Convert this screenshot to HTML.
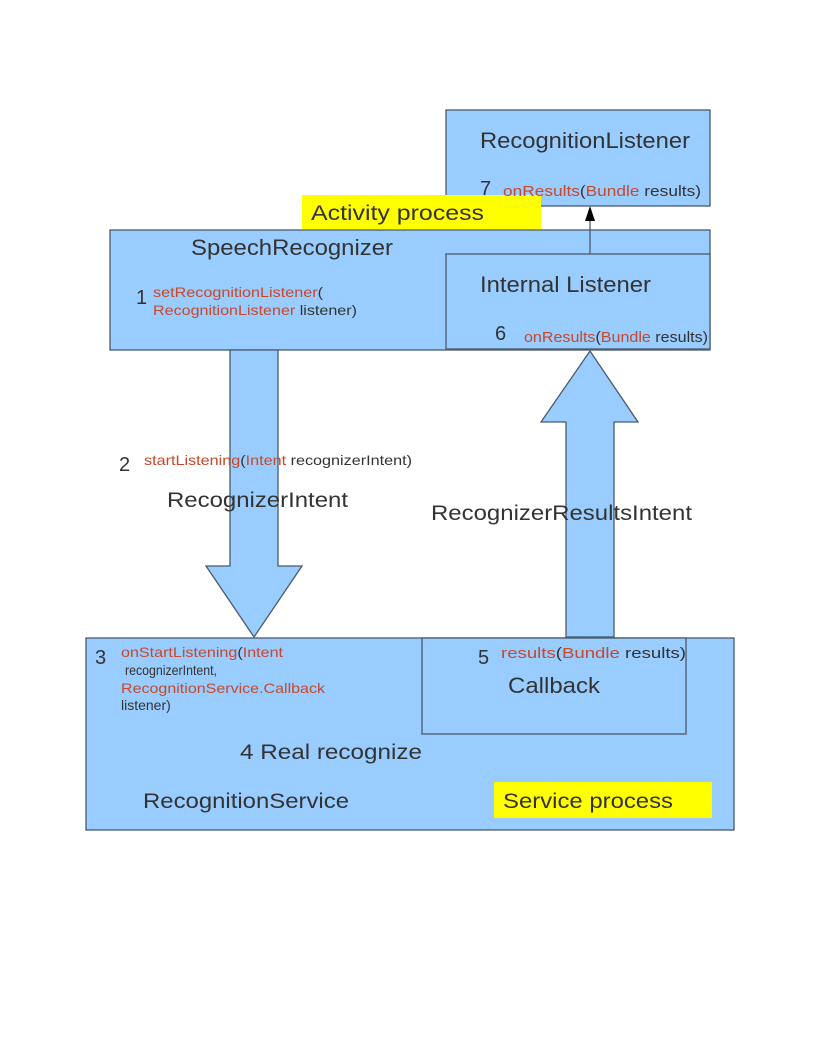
<!DOCTYPE html>
<html><head><meta charset="utf-8"><style>
html,body{margin:0;padding:0;background:#fff;}
svg{display:block;}
text{font-family:"Liberation Sans",sans-serif;fill:#333;}
.r{fill:#c8482a;}
</style></head><body>
<svg width="816" height="1056" viewBox="0 0 816 1056" xmlns="http://www.w3.org/2000/svg">
<g fill="#99ccff" stroke="#4a5a6a" stroke-width="1.3">
<rect x="446" y="110" width="264" height="96"/>
<rect x="110" y="230" width="600" height="120"/>
<rect x="446" y="254" width="264" height="95"/>
<rect x="86" y="638" width="648" height="192"/>
<rect x="422" y="638" width="264" height="96"/>
<polygon points="230,350 278,350 278,566 302,566 254,637 206,566 230,566"/>
<polygon points="566,637 614,637 614,422 638,422 590,351 541,422 566,422"/>
</g>
<line x1="590" y1="254" x2="590" y2="220" stroke="#4a5a6a" stroke-width="1.3"/>
<polygon points="590,206 585,221 595,221" fill="#000"/>
<rect x="302" y="195" width="239" height="34" fill="#ffff00"/>
<rect x="494" y="782" width="218" height="36" fill="#ffff00"/>

<text x="480" y="148" font-size="22" textLength="210" lengthAdjust="spacingAndGlyphs">RecognitionListener</text>
<text x="480" y="195" font-size="20">7</text>
<text x="503" y="196" font-size="15" textLength="198" lengthAdjust="spacingAndGlyphs"><tspan class="r">onResults</tspan>(<tspan class="r">Bundle</tspan> results)</text>
<text x="311" y="220" font-size="21" textLength="173" lengthAdjust="spacingAndGlyphs">Activity  process</text>

<text x="191" y="255" font-size="22" textLength="202" lengthAdjust="spacingAndGlyphs">SpeechRecognizer</text>
<text x="136" y="304" font-size="20">1</text>
<text x="153" y="297" font-size="14" class="r" textLength="170" lengthAdjust="spacingAndGlyphs">setRecognitionListener<tspan fill="#333">(</tspan></text>
<text x="153" y="315" font-size="14" textLength="204" lengthAdjust="spacingAndGlyphs"><tspan class="r">RecognitionListener</tspan> listener)</text>

<text x="480" y="292" font-size="22" textLength="171" lengthAdjust="spacingAndGlyphs">Internal Listener</text>
<text x="495" y="340" font-size="20">6</text>
<text x="524" y="342" font-size="15" textLength="184" lengthAdjust="spacingAndGlyphs"><tspan class="r">onResults</tspan>(<tspan class="r">Bundle</tspan> results)</text>

<text x="119" y="471" font-size="20">2</text>
<text x="144" y="465" font-size="14" textLength="268" lengthAdjust="spacingAndGlyphs"><tspan class="r">startListening</tspan>(<tspan class="r">Intent</tspan> recognizerIntent)</text>
<text x="167" y="507" font-size="21" textLength="181" lengthAdjust="spacingAndGlyphs">RecognizerIntent</text>
<text x="431" y="520" font-size="21" textLength="261" lengthAdjust="spacingAndGlyphs">RecognizerResultsIntent</text>

<text x="95" y="664" font-size="20">3</text>
<text x="121" y="657" font-size="14" textLength="162" lengthAdjust="spacingAndGlyphs"><tspan class="r">onStartListening</tspan>(<tspan class="r">Intent</tspan></text>
<text x="125" y="675" font-size="14" textLength="92" lengthAdjust="spacingAndGlyphs">recognizerIntent,</text>
<text x="121" y="693" font-size="14" class="r" textLength="204" lengthAdjust="spacingAndGlyphs">RecognitionService.Callback</text>
<text x="121" y="710" font-size="14">listener)</text>

<text x="478" y="664" font-size="20">5</text>
<text x="501" y="658" font-size="15" textLength="185" lengthAdjust="spacingAndGlyphs"><tspan class="r">results</tspan>(<tspan class="r">Bundle</tspan> results)</text>
<text x="508" y="693" font-size="22" textLength="92" lengthAdjust="spacingAndGlyphs">Callback</text>

<text x="240" y="759" font-size="21" textLength="182" lengthAdjust="spacingAndGlyphs">4  Real recognize</text>
<text x="143" y="808" font-size="21" textLength="206" lengthAdjust="spacingAndGlyphs">RecognitionService</text>
<text x="503" y="808" font-size="21" textLength="170" lengthAdjust="spacingAndGlyphs">Service process</text>
</svg>
</body></html>
